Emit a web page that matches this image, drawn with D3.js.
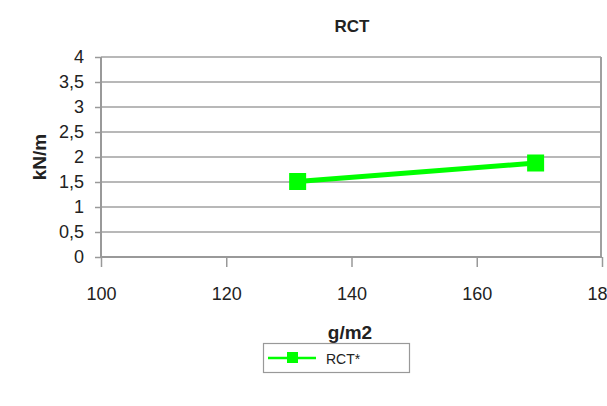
<!DOCTYPE html>
<html><head><meta charset="utf-8">
<script src="https://cdn.jsdelivr.net/npm/d3@7"></script>
<style>body{margin:0;background:#fff}svg{display:block;font-family:"Liberation Sans",Arial,sans-serif}</style>
</head><body><svg id="c" width="607" height="406"></svg>
<script>
const xValues = [131.4, 169.4];
const yValues = [1.51, 1.88];
const seriesName = "RCT*";
const yTicks = [0, 0.5, 1, 1.5, 2, 2.5, 3, 3.5, 4];
const xTicks = [100, 120, 140, 160, 180];

const svg = d3.select("#c");
const L = 101, R = 602, T = 57, B = 257;
const x = d3.scaleLinear().domain([100, 180]).range([L, R]);
const y = d3.scaleLinear().domain([0, 4]).range([B, T]);
const fmt = d => String(d).replace(".", ",");

// gridlines
svg.append("g").selectAll("line").data(yTicks.filter(d => d > 0)).join("line")
  .attr("x1", L).attr("x2", 601).attr("y1", d => y(d)).attr("y2", d => y(d))
  .attr("stroke", "#a0a0a0").attr("stroke-width", 1.5);
// right border
svg.append("line").attr("x1", 601).attr("x2", 601).attr("y1", T).attr("y2", B)
  .attr("stroke", "#a0a0a0").attr("stroke-width", 2);

// y axis
const ya = svg.append("g").attr("transform", `translate(${L},0)`)
  .call(d3.axisLeft(y).tickValues(yTicks).tickFormat(fmt).tickSize(6).tickPadding(11));
ya.select(".domain").attr("stroke", "#999").attr("stroke-width", 2).attr("d", `M0,${T}V${B}`);
ya.selectAll(".tick line").attr("stroke", "#999").attr("stroke-width", 1.5);
ya.selectAll(".tick text").attr("font-size", 18).attr("fill", "#222").attr("font-family", "Liberation Sans, Arial, sans-serif");

// x axis
const xa = svg.append("g").attr("transform", `translate(0,${B})`)
  .call(d3.axisBottom(x).tickValues(xTicks).tickSize(10).tickPadding(0));
xa.select(".domain").attr("stroke", "#999").attr("stroke-width", 2).attr("d", `M${L},0H${R}`);
xa.selectAll(".tick line").attr("stroke", "#999").attr("stroke-width", 1.5);
xa.selectAll(".tick text").attr("font-size", 18).attr("fill", "#222")
  .attr("font-family", "Liberation Sans, Arial, sans-serif").attr("dy", null).attr("y", 43);

// titles
svg.append("text").attr("x", 352).attr("y", 32).attr("text-anchor", "middle")
  .attr("font-weight", "bold").attr("font-size", 17).attr("fill", "#222").text("RCT");
svg.append("text").attr("x", 350).attr("y", 339).attr("text-anchor", "middle")
  .attr("font-weight", "bold").attr("font-size", 19).attr("fill", "#222").text("g/m2");
svg.append("text").attr("transform", "translate(46,157) rotate(-90)").attr("text-anchor", "middle")
  .attr("font-weight", "bold").attr("font-size", 19).attr("fill", "#222").text("kN/m");

// series
const pts = xValues.map((v, i) => [v, yValues[i]]);
svg.append("path").attr("d", d3.line().x(d => x(d[0])).y(d => y(d[1]))(pts))
  .attr("fill", "none").attr("stroke", "#00ff00").attr("stroke-width", 5);
svg.append("g").selectAll("rect").data(pts).join("rect")
  .attr("x", d => x(d[0]) - 8.5).attr("y", d => y(d[1]) - 8.5)
  .attr("width", 17).attr("height", 17).attr("fill", "#00ff00");

// legend
const lg = svg.append("g");
lg.append("rect").attr("x", 263.5).attr("y", 343.5).attr("width", 146).attr("height", 29)
  .attr("fill", "#fff").attr("stroke", "#999").attr("stroke-width", 1.2);
lg.append("line").attr("x1", 268).attr("x2", 316).attr("y1", 358).attr("y2", 358)
  .attr("stroke", "#00ff00").attr("stroke-width", 2.5);
lg.append("rect").attr("x", 287).attr("y", 352).attr("width", 11).attr("height", 11).attr("fill", "#00ff00");
lg.append("text").attr("x", 326).attr("y", 364).attr("font-size", 14).attr("fill", "#222").text(seriesName);
</script></body></html>
